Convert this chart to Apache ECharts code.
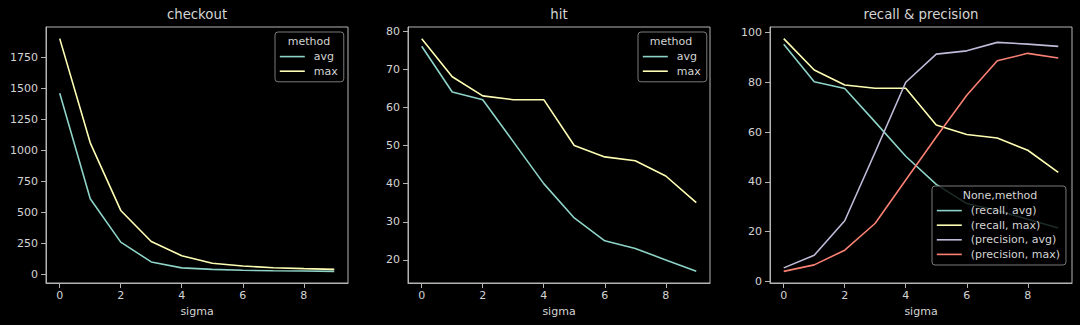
<!DOCTYPE html>
<html>
<head>
<meta charset="utf-8">
<script src="https://cdn.jsdelivr.net/npm/echarts@6/dist/echarts.min.js"></script>
<style>
html,body{margin:0;padding:0;background:#000;}
#chart{width:1080px;height:325px;}
</style>
</head>
<body>
<div id="chart"></div>
<script>
const sigma = [0, 1, 2, 3, 4, 5, 6, 7, 8, 9];
const checkoutAvg = [1460, 610, 260, 100, 52, 40, 33, 29, 27, 24];
const checkoutMax = [1900, 1060, 515, 265, 150, 90, 67, 53, 46, 40];
const hitAvg = [76, 64, 62, 51, 40, 31, 25, 23, 20, 17];
const hitMax = [78, 68, 63, 62, 62, 50, 47, 46, 42, 35];
const recallAvg = [95.2, 80.2, 77.5, 64, 50.3, 39, 31.3, 28.5, 25, 21.5];
const recallMax = [97.5, 84.9, 78.9, 77.6, 77.6, 62.8, 59, 57.6, 52.7, 43.8];
const precisionAvg = [5.5, 10.6, 24.4, 52, 80, 91.3, 92.6, 96, 95.3, 94.4];
const precisionMax = [4.1, 6.7, 12.6, 23.4, 40.8, 58, 74.8, 88.6, 91.6, 89.7];

const xTicks = [0, 2, 4, 6, 8];
const yTicksCheckout = [0, 250, 500, 750, 1000, 1250, 1500, 1750];
const yTicksHit = [20, 30, 40, 50, 60, 70, 80];
const yTicksRP = [0, 20, 40, 60, 80, 100];

const panelTitles = ['checkout', 'hit', 'recall & precision'];
const legendTitles = ['method', 'method', 'None,method'];
const namesPair = ['avg', 'max'];
const namesRP = ['(recall, avg)', '(recall, max)', '(precision, avg)', '(precision, max)'];

const C = ['#8dd3c7', '#feffb3', '#bfbbd9', '#fa8174'];
const FONT = 'DejaVu Sans';
const TXT = '#d4d4d4';
const FRAME = '#b4b4b4';

function pad(arr) {
  let lo = Infinity, hi = -Infinity;
  arr.forEach(a => a.forEach(v => { lo = Math.min(lo, v); hi = Math.max(hi, v); }));
  const r = hi - lo;
  return [lo - 0.05 * r, hi + 0.05 * r];
}
function pts(ys) { return sigma.map((x, i) => [x, ys[i]]); }
const plain = v => String(v);

const xr = pad([sigma]);
const panels = [
  { left: 46, series: [checkoutAvg, checkoutMax], names: namesPair, yTicks: yTicksCheckout },
  { left: 408, series: [hitAvg, hitMax], names: namesPair, yTicks: yTicksHit },
  { left: 770, series: [recallAvg, recallMax, precisionAvg, precisionMax], names: namesRP, yTicks: yTicksRP }
];

const grid = [], xAxis = [], yAxis = [], series = [], title = [], legend = [];
panels.forEach((p, k) => {
  grid.push({ left: p.left, top: 27, width: 302, height: 256, show: true,
    borderColor: FRAME, borderWidth: 1, backgroundColor: 'transparent' });
  xAxis.push({ type: 'value', gridIndex: k, min: xr[0], max: xr[1],
    name: 'sigma', nameLocation: 'middle', nameGap: 22,
    nameTextStyle: { color: TXT, fontFamily: FONT, fontSize: 11 },
    axisLine: { show: true, onZero: false, lineStyle: { color: FRAME, width: 1 } },
    axisTick: { show: true, length: 5, lineStyle: { color: FRAME }, customValues: xTicks },
    axisLabel: { color: TXT, fontFamily: FONT, fontSize: 11, margin: 7, customValues: xTicks, formatter: plain },
    splitLine: { show: false } });
  const yr = pad(p.series);
  yAxis.push({ type: 'value', gridIndex: k, min: yr[0], max: yr[1],
    axisLine: { show: true, onZero: false, lineStyle: { color: FRAME, width: 1 } },
    axisTick: { show: true, length: 5, lineStyle: { color: FRAME }, customValues: p.yTicks },
    axisLabel: { color: TXT, fontFamily: FONT, fontSize: 11, margin: 8, customValues: p.yTicks, formatter: plain },
    splitLine: { show: false } });
  p.series.forEach((ys, j) => {
    series.push({ type: 'line', name: p.names[j], xAxisIndex: k, yAxisIndex: k,
      data: pts(ys), symbol: 'none', color: C[j],
      lineStyle: { width: 1.6, color: C[j] }, animation: false });
  });
  title.push({ text: panelTitles[k], left: p.left + 151, top: 8, textAlign: 'center', padding: 0,
    textStyle: { color: TXT, fontFamily: FONT, fontSize: 13.3, fontWeight: 'normal' } });
});

// legends
const legendBoxes = [
  { left: 275, top: 32, names: namesPair, titleX: 309, titleY: 36 },
  { left: 638, top: 32, names: namesPair, titleX: 671, titleY: 36 },
  { left: 932, top: 186, names: namesRP, titleX: 1000, titleY: 190 }
];
legendBoxes.forEach((b, k) => {
  legend.push({ orient: 'vertical', left: b.left, top: b.top, data: b.names,
    itemWidth: 25, itemHeight: 14, itemGap: 3.4, padding: [19, 6, 5, 4],
    borderColor: '#7a7a7a', borderWidth: 1, borderRadius: 3,
    backgroundColor: 'rgba(0,0,0,0.8)', selectedMode: false, z: 10,
    itemStyle: { opacity: 0 },
    lineStyle: { width: 1.6 },
    textStyle: { color: TXT, fontFamily: FONT, fontSize: 11, padding: [0, 0, 0, 4] } });
  title.push({ text: legendTitles[k], left: b.titleX, top: b.titleY, textAlign: 'center', padding: 0, z: 12,
    textStyle: { color: TXT, fontFamily: FONT, fontSize: 11, fontWeight: 'normal' } });
});

const chart = echarts.init(document.getElementById('chart'), null, { renderer: 'svg' });
chart.setOption({
  backgroundColor: '#000',
  animation: false,
  title, grid, xAxis, yAxis, series, legend
});
</script>
</body>
</html>
